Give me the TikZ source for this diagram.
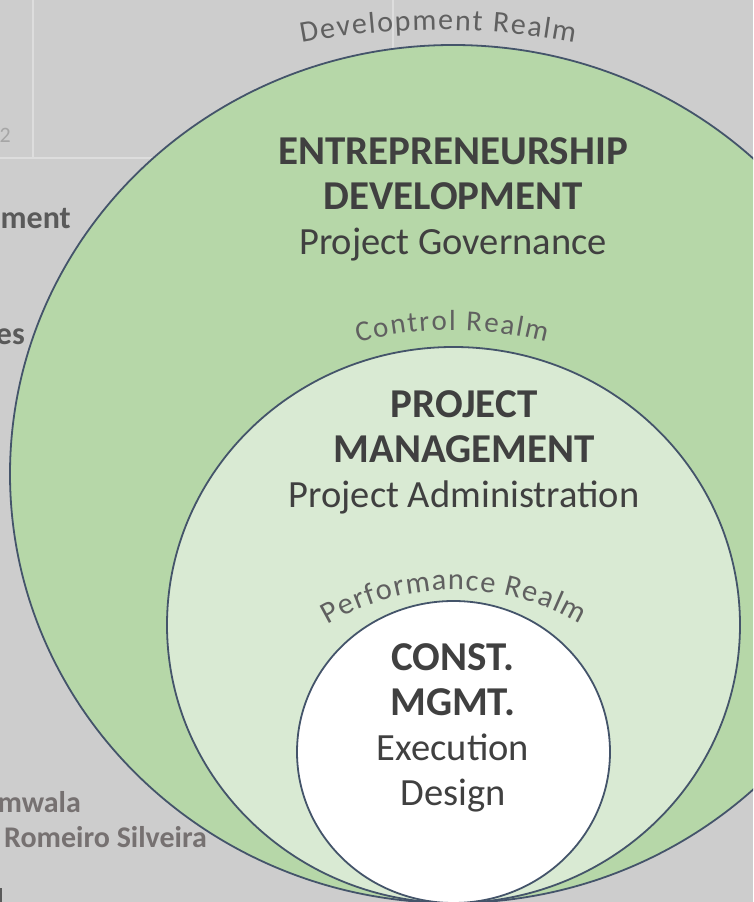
\documentclass[tikz,border=0pt]{standalone}
\usepackage{fontspec}
\setmainfont{Carlito}
\usetikzlibrary{positioning,decorations.text}

\definecolor{slidegray}{RGB}{205,205,205}
\definecolor{gridgray}{RGB}{221,221,221}
\definecolor{devgreen}{RGB}{182,215,168}
\definecolor{ctrlgreen}{RGB}{217,234,211}
\definecolor{ringblue}{RGB}{68,84,106}
\definecolor{headgray}{RGB}{64,64,64}
\definecolor{realmgray}{RGB}{96,96,96}
\definecolor{sidegray}{RGB}{90,90,90}
\definecolor{namegray}{RGB}{118,113,113}

\newcommand\realmfont[1]{\fontsize{#1}{#1}\selectfont\color{realmgray}}

\tikzset{
    realm/.style={draw=ringblue, line width=1.8pt},
    gridline/.style={draw=gridgray, line width=1.5pt},
    headline/.style={font=\fontsize{41}{45}\selectfont\bfseries, text=headgray,
        inner sep=0pt, text height=31pt, text depth=13.5pt},
    subline/.style={font=\fontsize{38.5}{45}\selectfont, text=headgray,
        inner sep=0pt, text height=31pt, text depth=13.5pt},
    sidetext/.style={font=\fontsize{32}{36}\selectfont\bfseries, text=sidegray, inner sep=0pt},
    nametext/.style={font=\fontsize{30}{33}\selectfont\bfseries, text=namegray, inner sep=0pt}
}

\begin{document}
\begin{tikzpicture}[x=1pt, y=1pt]
\useasboundingbox (0,0) rectangle (753,902);
\clip (0,0) rectangle (753,902);
\fill[slidegray] (0,0) rectangle (753,902);

% slide behind the rings
\draw[gridline] (33,902) -- (33,744);
\draw[gridline] (393,902) -- (393,820);
\draw[gridline] (0,744) -- (753,744);
\node[font=\fontsize{22}{24}\selectfont, text=gray!70, inner sep=0pt, anchor=base east] (pagenum) at (11,759) {2};
\node[sidetext, anchor=base east] (sideA) at (71,673) {ment};
\node[sidetext, anchor=base east] (sideB) at (25,557) {es};
\node[nametext, anchor=base east] (nameA) at (81,89) {mwala};
\node[nametext, anchor=base west] (nameB) at (4,54) {Romeiro Silveira};
\draw[sidegray, line width=1.5pt] (1,0) -- (1,14);

% the three rings
\filldraw[realm, fill=devgreen] (453,428) ellipse [x radius=443, y radius=429];
\filldraw[realm, fill=ctrlgreen] (453.5,277) ellipse [x radius=286.5, y radius=278];
\filldraw[realm, fill=white] (453.5,150) ellipse [x radius=156.5, y radius=151];

% realm names on arcs
\path[decorate, decoration={text along path, text align=fit to path,
    text={|\realmfont{30}|Development Realm}}]
    ([shift={(438,144)}]100.8:728) arc[start angle=100.8, end angle=79.2, radius=728];
\path[decorate, decoration={text along path, text align=fit to path,
    text={|\realmfont{29}|Control Realm}}]
    ([shift={(452,206)}]104.9:366) arc[start angle=104.9, end angle=75.1, radius=366];
\path[decorate, decoration={text along path, text align=fit to path,
    text={|\realmfont{30.5}|Performance Realm}}]
    ([shift={(454,63)}]120.4:249) arc[start angle=120.4, end angle=59.6, radius=249];

% ring texts
\node[headline, anchor=base] (entre) at (453,737) {ENTREPRENEURSHIP};
\node[headline, below=0pt of entre] (devt) {DEVELOPMENT};
\node[subline, below=0pt of devt] (gov) {Project Governance};

\node[headline, anchor=base] (proj) at (464,484) {PROJECT};
\node[headline, below=0pt of proj] (mgmt) {MANAGEMENT};
\node[subline, below=0pt of mgmt] (admin) {Project Administration};

\node[headline, anchor=base] (const) at (453,231) {CONST.};
\node[headline, below=0pt of const] (cmgmt) {MGMT.};
\node[subline, below=0pt of cmgmt] (exec) {Execution};
\node[subline, below=0pt of exec] (design) {Design};
\end{tikzpicture}
\end{document}
